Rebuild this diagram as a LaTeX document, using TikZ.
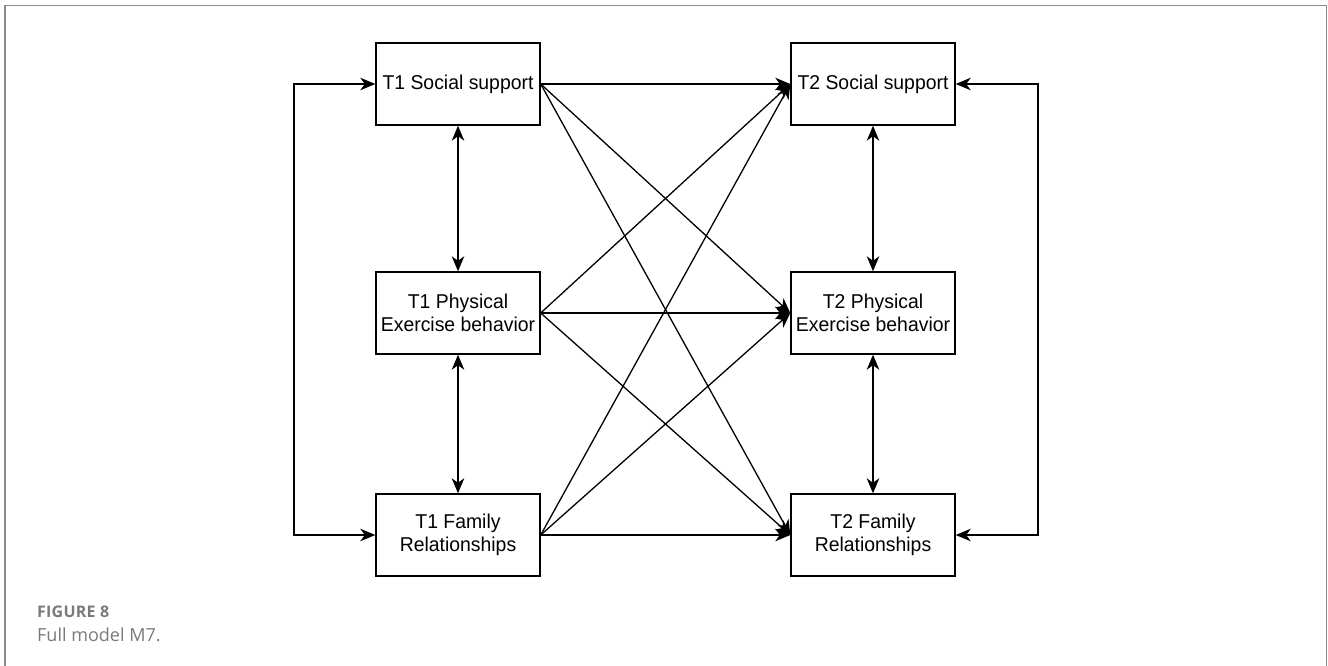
\documentclass[tikz,border=0pt]{standalone}
\usepackage{fontspec}
\setmainfont{Liberation Sans}[FakeStretch=0.97]
\newfontfamily\capfont{Open Sans}
\usetikzlibrary{arrows.meta}
\definecolor{framegray}{HTML}{8A8A8A}
\definecolor{capgray}{HTML}{7A7A7A}
\tikzset{
  tip/.tip={Stealth[length=15pt,width=12.5pt,inset=4.5pt]},
  varbox/.style={draw=black, line width=1.4pt, minimum width=164pt, minimum height=82pt,
    inner sep=0pt, align=center, font=\fontsize{20}{23.5}\selectfont},
  conn/.style={line width=1.3pt, -tip},
  biconn/.style={line width=1.3pt, tip-tip},
}
\begin{document}
\begin{tikzpicture}[x=1pt,y=-1pt]
\useasboundingbox (0,0) rectangle (1328,666);
\draw[framegray, line width=1.6pt] (5,666) -- (5,5.5) -- (1326.5,5.5) -- (1326.5,666);

\node[varbox] (ss1) at (458,84) {T1 Social support};
\node[varbox] (pe1) at (458,313) {T1 Physical\\Exercise behavior};
\node[varbox] (fr1) at (458,535) {T1 Family\\Relationships};
\node[varbox] (ss2) at (873,84) {T2 Social support};
\node[varbox] (pe2) at (873,313) {T2 Physical\\Exercise behavior};
\node[varbox] (fr2) at (873,535) {T2 Family\\Relationships};

\coordinate (lx) at (294,0);
\coordinate (rx) at (1038,0);

\foreach \a in {ss1,pe1,fr1}{
  \foreach \b in {ss2,pe2,fr2}{
    \draw[conn] (\a.east) -- (\b.west);
  }
}

\draw[biconn] (ss1.south) -- (pe1.north);
\draw[biconn] (pe1.south) -- (fr1.north);
\draw[biconn] (ss2.south) -- (pe2.north);
\draw[biconn] (pe2.south) -- (fr2.north);

\draw[biconn] (ss1.west) -- (ss1.west -| lx) -- (fr1.west -| lx) -- (fr1.west);
\draw[biconn] (ss2.east) -- (ss2.east -| rx) -- (fr2.east -| rx) -- (fr2.east);

\node[anchor=base west, inner sep=0pt, text=capgray, font=\capfont\bfseries\fontsize{16}{19}\selectfont\addfontfeature{LetterSpace=1.5}] (figlabel) at (37,617) {FIGURE 8};
\node[anchor=base west, inner sep=0pt, text=capgray, font=\capfont\fontsize{18}{21}\selectfont] (figcap) at (37,641.5) {Full model M7.};
\end{tikzpicture}
\end{document}
